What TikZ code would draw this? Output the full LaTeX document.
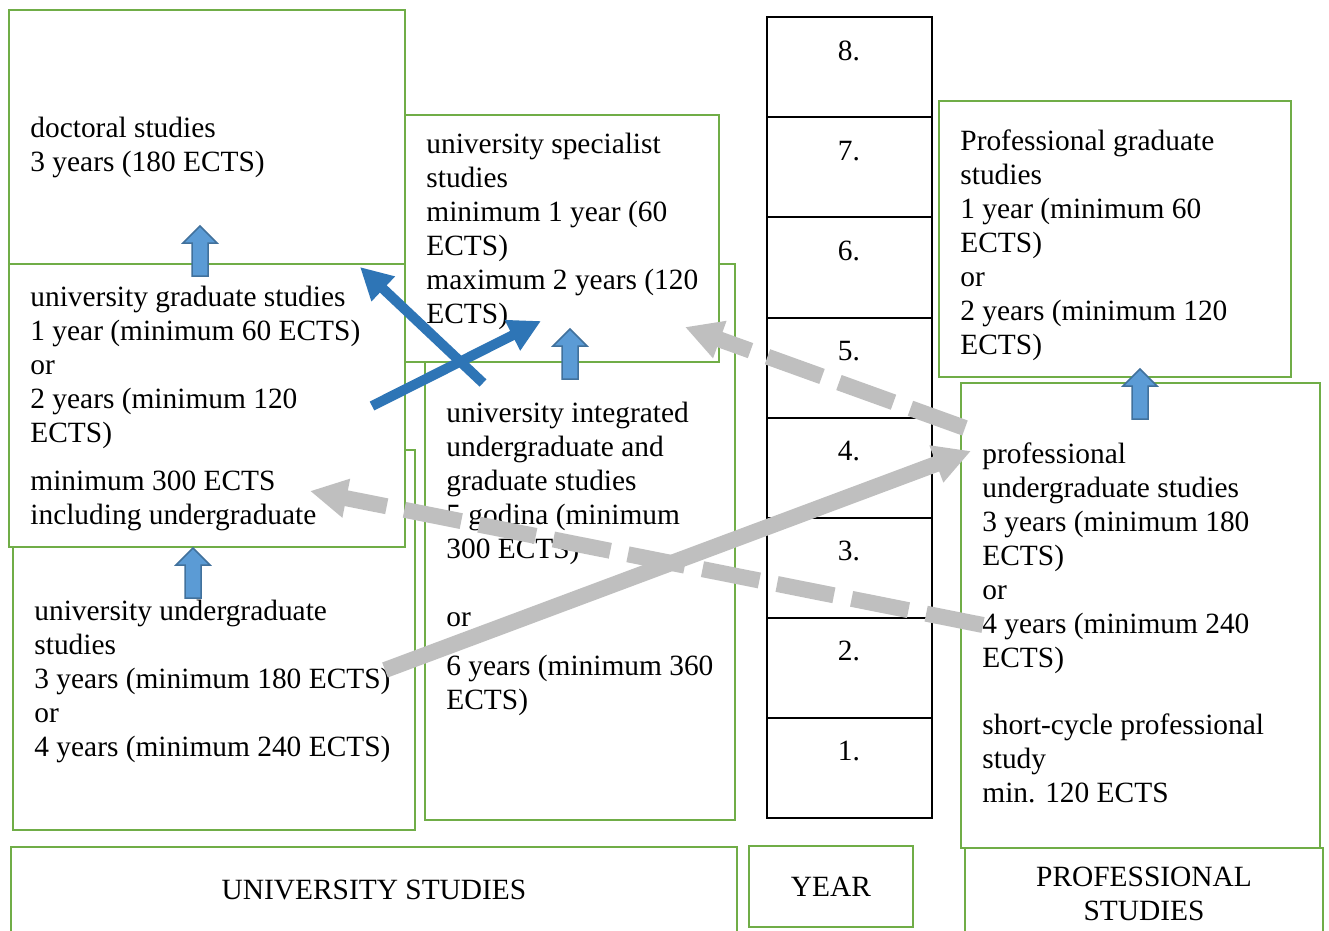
\documentclass[tikz,border=0pt]{standalone}
\usepackage{fontspec}
\setmainfont{Liberation Serif}
\definecolor{EDUgreen}{HTML}{70AD47}
\definecolor{EDUblue}{HTML}{5B9BD5}
\definecolor{EDUedge}{HTML}{41719C}
\definecolor{EDUnavy}{HTML}{2E75B6}
\definecolor{EDUgray}{HTML}{BFBFBF}
\usetikzlibrary{arrows.meta, fit, positioning}

\tikzset{
  box/.style={draw=EDUgreen, line width=1.2pt, fill=white, inner sep=0pt},
  yearcell/.style={draw=black, line width=1pt, inner sep=0pt},
  txt/.style={anchor=north west, inner sep=0pt, align=left, execute at begin node=\strut},
  lbl/.style={anchor=base, inner sep=0pt},
  navyarrow/.style={EDUnavy, line width=5pt, -{Triangle[length=16pt, width=16pt]}},
  grayarrow/.style={EDUgray, line width=8pt, -{Triangle[length=18.5pt, width=18.5pt]}},
  graydash/.style={grayarrow, dash pattern=on 29pt off 9pt},
  blockarrow/.style={fill=EDUblue, draw=EDUedge, line width=0.75pt}
}
% upward block arrow, tip at the given coordinate
\newcommand{\upblock}[1]{%
  \filldraw[blockarrow] (#1) -- ++(-17,17) -- ++(9,0) -- ++(0,33)
    -- ++(16,0) -- ++(0,-33) -- ++(9,0) -- cycle;}

\begin{document}
\begin{tikzpicture}[x=0.5pt, y=-0.5pt, font=\fontsize{14.7}{17}\selectfont]
            \useasboundingbox (0,0) rectangle (1329,931);
            \clip (0,0) rectangle (1329,931);
            % University boxes
            \node[box, fit={(9,10) (405,264)}] (doct) {};
            \node[box, fit={(13,450) (415,830)}] (ugrad) {};
            \node[box, fit={(9,264) (405,547)}] (grad) {};
            \node[box, fit={(425,264) (735,820)}] (integ) {};
            \node[box, fit={(405,115) (719,362)}] (spec) {};
            % Professional boxes
            \node[box, fit={(939,101) (1291,377)}] (pgrad) {};
            \node[box, fit={(961,383) (1320,848)}] (pug) {};
            % Year column
            \foreach \n in {1,...,8} {
               \pgfmathsetmacro\ytop{818-100.1*\n}
               \pgfmathsetmacro\ybot{818-100.1*(\n-1)}
               \node[yearcell, fit={(767,\ytop) (932,\ybot)}] (year\n) {};
               \node[lbl] (yearTxt\n) at (849,{\ytop+43}) {\n.};
            }
            % Bottom captions
            \node[box, fit={(11,847) (737,950)}] (uniCap) {};
            \node[box, fit={(749,846) (913,927)}] (yearCap) {};
            \node[box, fit={(965,848) (1323,950)}] (profCap) {};
            \node[lbl] (uniCapTxt) at (374,899) {UNIVERSITY STUDIES};
            \node[lbl] (yearCapTxt) at (831,896) {YEAR};
            \node[txt, anchor=north, align=center] (profCapTxt) at (1144,867) {PROFESSIONAL\\STUDIES};
            % Texts
            \node[txt] (doctTxt) at (30,117) {doctoral studies\\3 years (180 ECTS)};
            \node[txt] (gradTxt) at (30,286) {university graduate studies\\1 year (minimum 60 ECTS)\\or\\2 years (minimum 120\\ECTS)\\[7pt]minimum 300 ECTS\\including undergraduate};
            \node[txt] (specTxt) at (426,133) {university specialist\\studies\\minimum 1 year (60\\ECTS)\\maximum 2 years (120\\ECTS)};
            \node[txt] (ugradTxt) at (34,600) {university undergraduate\\studies\\3 years (minimum 180 ECTS)\\or\\4 years (minimum 240 ECTS)};
            \node[txt] (integTxt) at (446,402) {university integrated\\undergraduate and\\graduate studies\\5 godina (minimum\\300 ECTS)\\[17pt]or\\[7.5pt]6 years (minimum 360\\ECTS)};
            \node[txt] (pgradTxt) at (960,129) {Professional graduate\\studies\\1 year (minimum 60\\ECTS)\\or\\2 years (minimum 120\\ECTS)};
            \node[txt] (pugTxt) at (982,442) {professional\\undergraduate studies\\3 years (minimum 180\\ECTS)\\or\\4 years (minimum 240\\ECTS)\\[16.5pt]short-cycle professional\\study\\min. 120 ECTS};
            % Block arrows between levels
            \coordinate (upDoct) at (200,226);
            \coordinate (upGrad) at (193,548);
            \coordinate (upSpec) at (570,329);
            \coordinate (upPgrad) at (1140,369);
            \upblock{upDoct}
            \upblock{upGrad}
            \upblock{upSpec}
            \upblock{upPgrad}
            % Crossing transfers
            \coordinate (toGrad) at (360,267);
            \coordinate (fromSpec) at (483,383);
            \coordinate (toSpec) at (541,321);
            \coordinate (fromGrad) at (372,406);
            \draw[navyarrow] (fromSpec) -- (toGrad);
            \draw[navyarrow] (fromGrad) -- (toSpec);
            % Links to and from professional studies
            \coordinate (fromUgrad) at (385,670);
            \coordinate (toPug) at (971,451);
            \coordinate (fromPugTop) at (965,428);
            \coordinate (toSpecRight) at (685,327);
            \coordinate (fromPugMid) at (983,625);
            \coordinate (toGradLow) at (310,491);
            \draw[grayarrow] (fromUgrad) -- (toPug);
            \draw[graydash] (fromPugTop) -- (toSpecRight);
            \draw[graydash] (fromPugMid) -- (toGradLow);
         \end{tikzpicture}
\end{document}
